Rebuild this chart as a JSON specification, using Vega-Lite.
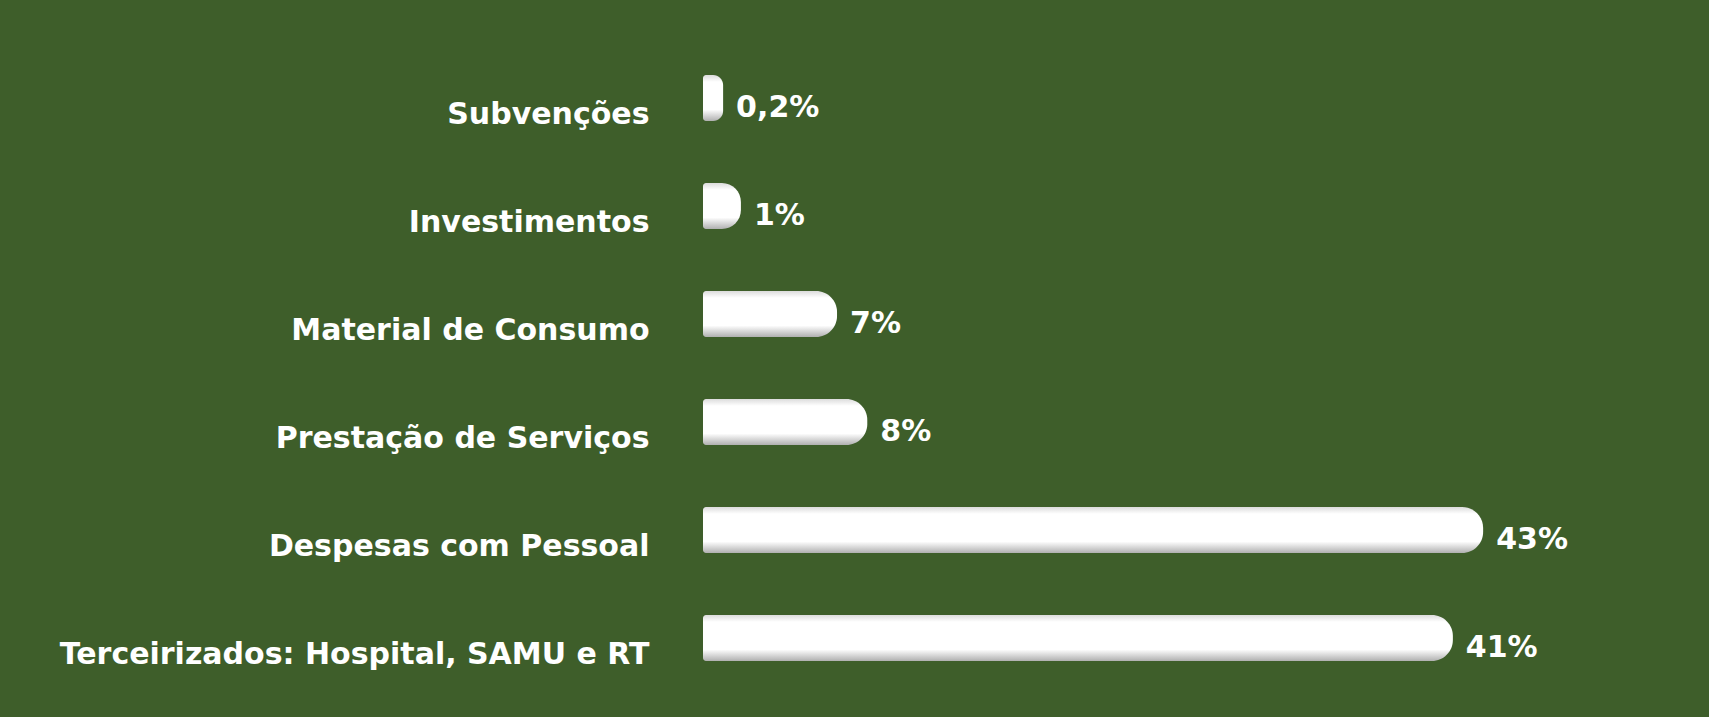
{
  "$schema": "https://vega.github.io/schema/vega-lite/v6.json",
  "autosize": "none",
  "width": 1006,
  "height": 648,
  "padding": {"left": 703, "top": 44, "right": 0, "bottom": 25},
  "background": "#3e5e2a",
  "config": {"view": {"stroke": null}},
  "data": {
    "values": [
      {"categoria": "Subvenções", "valor": 0.2, "rotulo": "0,2%"},
      {"categoria": "Investimentos", "valor": 1.2, "rotulo": "1%"},
      {"categoria": "Material de Consumo", "valor": 6.6, "rotulo": "7%"},
      {"categoria": "Prestação de Serviços", "valor": 8.3, "rotulo": "8%"},
      {"categoria": "Despesas com Pessoal", "valor": 42.9, "rotulo": "43%"},
      {"categoria": "Terceirizados: Hospital, SAMU e RT", "valor": 41.2, "rotulo": "41%"}
    ]
  },
  "encoding": {
    "y": {
      "field": "categoria",
      "type": "nominal",
      "sort": null,
      "scale": {"paddingInner": 0.574, "paddingOuter": 0.287},
      "axis": {
        "title": null,
        "domain": false,
        "ticks": false,
        "labelFont": "DejaVu Sans",
        "labelFontWeight": "bold",
        "labelFontSize": 30,
        "labelColor": "#ffffff",
        "labelPadding": 54,
        "labelOffset": 17,
        "labelLimit": 1000
      }
    }
  },
  "layer": [
    {
      "mark": {
        "type": "bar",
        "cornerRadiusTopRight": 21,
        "cornerRadiusBottomRight": 21,
        "cornerRadiusTopLeft": 3,
        "cornerRadiusBottomLeft": 3,
        "color": {
          "gradient": "linear",
          "x1": 0, "y1": 0, "x2": 0, "y2": 1,
          "stops": [
            {"offset": 0, "color": "#dcdcdc"},
            {"offset": 0.15, "color": "#ffffff"},
            {"offset": 0.75, "color": "#ffffff"},
            {"offset": 1, "color": "#b0b0b0"}
          ]
        }
      },
      "encoding": {
        "x": {
          "field": "valor",
          "type": "quantitative",
          "scale": {"domain": [-0.93, 55.59], "nice": false, "zero": false},
          "axis": null
        },
        "x2": {"datum": -0.93}
      }
    },
    {
      "mark": {
        "type": "text",
        "align": "left",
        "baseline": "middle",
        "dx": 13,
        "dy": 10,
        "font": "DejaVu Sans",
        "fontWeight": "bold",
        "fontSize": 30,
        "color": "#ffffff"
      },
      "encoding": {
        "x": {"field": "valor", "type": "quantitative"},
        "text": {"field": "rotulo"}
      }
    }
  ]
}
